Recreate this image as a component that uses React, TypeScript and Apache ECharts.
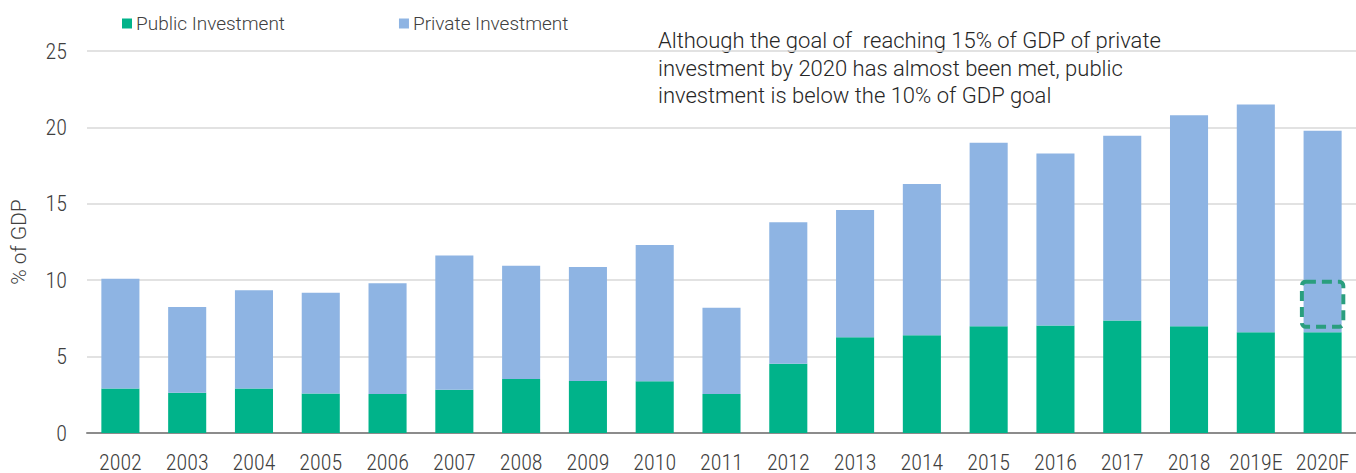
import React, { useEffect, useRef } from "react";
import * as echarts from "echarts";

const categories = ["2002","2003","2004","2005","2006","2007","2008","2009","2010","2011","2012","2013","2014","2015","2016","2017","2018","2019E","2020F"];
const publicInvestment = [2.92,2.63,2.92,2.59,2.55,2.83,3.54,3.41,3.39,2.55,4.54,6.26,6.39,6.98,7.04,7.37,6.98,6.59,6.59];
const totalInvestment = [10.09,8.25,9.35,9.18,9.8,11.62,10.95,10.86,12.31,8.19,13.8,14.6,16.3,19.0,18.3,19.46,20.8,21.5,19.78];
const privateInvestment = totalInvestment.map((t, i) => +(t - publicInvestment[i]).toFixed(2));
const yTicks = [0, 5, 10, 15, 20, 25];
const goalBox = [["2020F", 6.95, 9.9]];
const annotation = [
  "Although the goal of  reaching 15% of GDP of private",
  "investment by 2020 has almost been met, public",
  "investment is below the 10% of GDP goal",
];

const TEXT_FONT = "Roboto, 'Open Sans', sans-serif";
const NUM_FONT = "'Roboto Condensed', Roboto, sans-serif";

export default function App() {
  const ref = useRef<HTMLDivElement>(null);
  useEffect(() => {
    document.body.style.margin = "0";
    const chart = echarts.init(ref.current!, null, { renderer: "svg" });
    chart.setOption({
      animation: false,
      textStyle: { fontFamily: TEXT_FONT, fontWeight: 300 },
      legend: {
        left: 122,
        top: 14,
        itemWidth: 10,
        itemHeight: 10,
        itemGap: 114,
        padding: 0,
        icon: "rect",
        textStyle: { fontSize: 19, color: "#404040", fontFamily: TEXT_FONT, fontWeight: 300, padding: [0, 0, 0, -1] },
        data: ["Public Investment", "Private Investment"],
      },
      graphic: [
        {
          type: "text",
          left: 658,
          top: 27,
          style: {
            text: annotation.join("\n"),
            fontSize: 22,
            lineHeight: 27.5,
            fill: "#262626",
            fontFamily: TEXT_FONT,
            fontWeight: 300,
          },
        },
      ],
      grid: { left: 82, right: -8.5, top: 51, bottom: 36, containLabel: false },
      xAxis: {
        type: "category",
        data: categories,
        axisLine: { lineStyle: { color: "#8c8c8c", width: 2 } },
        axisTick: { show: false },
        axisLabel: { interval: 0, fontSize: 22, color: "#404040", margin: 18, fontFamily: NUM_FONT, fontWeight: 300 },
      },
      yAxis: {
        type: "value",
        min: yTicks[0],
        max: yTicks[yTicks.length - 1],
        interval: 5,
        name: "% of GDP",
        nameLocation: "middle",
        nameGap: 58,
        nameTextStyle: { fontSize: 21, color: "#404040", fontFamily: TEXT_FONT, fontWeight: 300 },
        axisLine: { show: false },
        axisTick: { show: false },
        splitLine: { lineStyle: { color: "#d9d9d9", width: 1.5 } },
        axisLabel: { fontSize: 22, color: "#404040", margin: 20, fontFamily: NUM_FONT, fontWeight: 300 },
      },
      series: [
        {
          name: "Public Investment",
          type: "bar",
          stack: "inv",
          data: publicInvestment,
          barWidth: "57%",
          itemStyle: { color: "#00B38A" },
        },
        {
          name: "Private Investment",
          type: "bar",
          stack: "inv",
          data: privateInvestment,
          barWidth: "57%",
          itemStyle: { color: "#8EB4E3" },
        },
        {
          type: "custom",
          name: "goal",
          data: goalBox,
          z: 10,
          renderItem: (params: any, api: any) => {
            const lo = api.coord([api.value(0), api.value(1)]);
            const hi = api.coord([api.value(0), api.value(2)]);
            const w = api.size([1, 0])[0] * 0.62;
            return {
              type: "rect",
              shape: { x: lo[0] - w / 2, y: hi[1], width: w, height: lo[1] - hi[1], r: 4 },
              style: { fill: "none", stroke: "#2A9E7E", lineWidth: 4, lineDash: [10, 6] },
            };
          },
        },
      ],
    });
    return () => chart.dispose();
  }, []);
  return <div ref={ref} style={{ width: 1356, height: 473 }} />;
}
